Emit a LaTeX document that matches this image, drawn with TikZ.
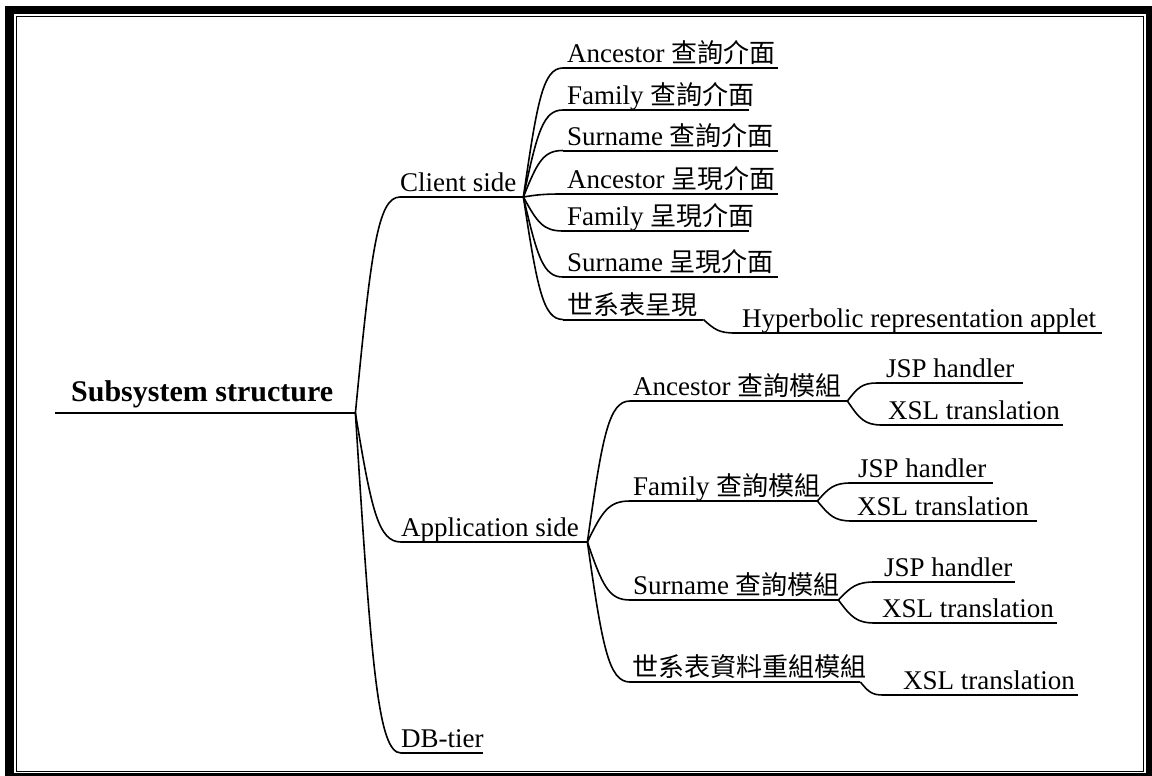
\documentclass[tikz,border=0pt]{standalone}
\usepackage{fontspec}
\setmainfont{Liberation Serif}
\newfontfamily\cjk{Noto Sans CJK TC}
\usetikzlibrary{calc}
\newcommand\itm[3]{\makebox[#1pt][l]{\hspace*{#2pt}#3}}
\newcommand\zh[1]{{\cjk\fontsize{26}{30}\selectfont #1}}
\begin{document}
\begin{tikzpicture}[x=1pt,y=-1pt,
  item/.style={anchor=south west, inner sep=0pt, text height=20pt, text depth=5pt,
    font=\fontsize{27}{30}\selectfont},
  rootitem/.style={item, text height=22pt, text depth=11pt,
    font=\fontsize{30}{34}\selectfont\bfseries},
  uline/.style={line width=2pt},
  conn/.style={line width=1.6pt, to path={let \p1=(\tikztostart), \p2=(\tikztotarget) in
    .. controls ({\x1+0.35*(\x2-\x1)},{\y1+0.75*(\y2-\y1)}) and ({\x1+0.5*(\x2-\x1)},{\y2}) .. (\tikztotarget)}},
]
\useasboundingbox (0,0) rectangle (1152,776);
% frame
\fill[black] (5,6) rectangle (1152,776);
\fill[white] (14,14) rectangle (1146,773);
\draw[line width=1.5pt] (16.5,16.5) rectangle (1143.5,771.5);

% nodes
\node[rootitem] (root) at (55,413) {\itm{300}{16}{Subsystem structure}};
\node[item] (client) at (400,197) {\itm{123}{0}{Client side}};
\node[item] (c1) at (563,68) {\itm{215}{4}{Ancestor \zh{查詢介面}}};
\node[item] (c2) at (563,110) {\itm{186}{4}{Family \zh{查詢介面}}};
\node[item] (c3) at (563,150.5) {\itm{215}{4}{Surname \zh{查詢介面}}};
\node[item] (c4) at (563,194) {\itm{215}{4}{Ancestor \zh{呈現介面}}};
\node[item] (c5) at (563,231) {\itm{186}{4}{Family \zh{呈現介面}}};
\node[item] (c6) at (563,277) {\itm{215}{4}{Surname \zh{呈現介面}}};
\node[item] (c7) at (563,319.5) {\itm{140}{4}{\zh{世系表呈現}}};
\node[item] (hyp) at (735,333) {\itm{367}{7}{Hyperbolic representation applet}};
\node[item] (app) at (401,542) {\itm{186}{0}{Application side}};
\node[item] (a1) at (630,401) {\itm{217}{3}{Ancestor \zh{查詢模組}}};
\node[item] (a2) at (630,501) {\itm{187}{3}{Family \zh{查詢模組}}};
\node[item] (a3) at (630,600) {\itm{208}{3}{Surname \zh{查詢模組}}};
\node[item] (a4) at (630,682) {\itm{230}{2}{\zh{世系表資料重組模組}}};
\node[item] (db) at (401,753) {\itm{82}{0}{DB-tier}};
\node[item] (j1) at (877,383) {\itm{146}{9}{JSP handler}};
\node[item] (x1) at (882,425) {\itm{181}{6}{XSL translation}};
\node[item] (j2) at (851,483) {\itm{142}{7}{JSP handler}};
\node[item] (x2) at (852,521) {\itm{185}{5}{XSL translation}};
\node[item] (j3) at (875,582) {\itm{140}{9}{JSP handler}};
\node[item] (x3) at (875,623) {\itm{182}{7}{XSL translation}};
\node[item] (x4) at (883,695) {\itm{195}{20}{XSL translation}};

% underlines
\foreach \n in {root,client,c1,c2,c3,c4,c5,c6,c7,hyp,app,a1,a2,a3,a4,db,j1,x1,j2,x2,j3,x3,x4}
  \draw[uline] (\n.south west) -- (\n.south east);

% connectors
\foreach \c in {client,app,db} \draw[conn] (root.south east) to (\c.south west);
\foreach \c in {c1,c2,c3,c4,c5,c6,c7} \draw[conn] (client.south east) to (\c.south west);
\draw[conn] (c7.south east) to (hyp.south west);
\foreach \c in {a1,a2,a3,a4} \draw[conn] (app.south east) to (\c.south west);
\draw[conn] (a1.south east) to (j1.south west);
\draw[conn] (a1.south east) to (x1.south west);
\draw[conn] (a2.south east) to (j2.south west);
\draw[conn] (a2.south east) to (x2.south west);
\draw[conn] (a3.south east) to (j3.south west);
\draw[conn] (a3.south east) to (x3.south west);
\draw[conn] (a4.south east) to (x4.south west);
\end{tikzpicture}
\end{document}
